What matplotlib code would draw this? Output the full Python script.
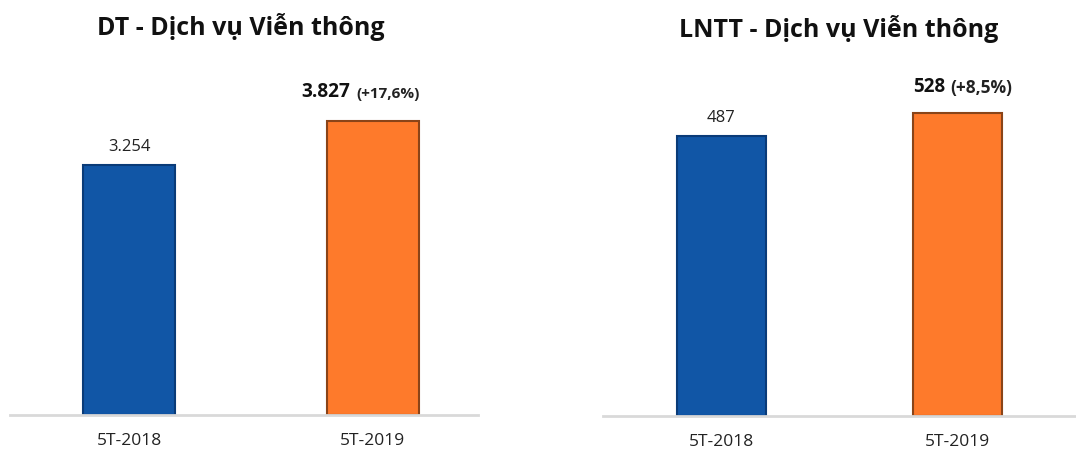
#! /usr/bin/env python3

'''
DT / LNTT - Dich vu Vien thong, two bar charts side by side
'''

import matplotlib
matplotlib.use('Agg')
import matplotlib.pyplot as plt


periods = ['5T-2018', '5T-2019']

dt_values = [3254, 3827]
dt_labels = ['3.254', '3.827']
dt_growth = '(+17,6%)'

lntt_values = [487, 528]
lntt_labels = ['487', '528']
lntt_growth = '(+8,5%)'

dt_title = 'DT - Dịch vụ Viễn thông'
lntt_title = 'LNTT - Dịch vụ Viễn thông'

bar_colors = ['#1156A6', '#FE7A2B']
edge_colors = ['#0A3B78', '#8A4418']

plt.rcParams['font.family'] = ['Open Sans', 'DejaVu Sans']

W, H = 1076, 451


def px_axes(fig, x0, x1, y_top, y_bottom):
    return fig.add_axes([x0 / W, (H - y_bottom) / H,
                         (x1 - x0) / W, (y_bottom - y_top) / H])


def bar_panel(ax, values, labels, growth, ylim, xlim, split_off,
              num_size, growth_size, top_off):
    x = range(len(values))
    bars = ax.bar(x, values, width=0.378, color=bar_colors,
                  edgecolor=edge_colors, linewidth=1.5, zorder=2)
    ax.set_xlim(*xlim)
    ax.set_ylim(*ylim)
    for side in ['top', 'right', 'left']:
        ax.spines[side].set_visible(False)
    ax.spines['bottom'].set_color('#D9D9D9')
    ax.spines['bottom'].set_linewidth(2)
    ax.set_yticks([])
    ax.set_xticks(list(x))
    ax.set_xticklabels(periods, fontsize=12.5, color='#222222')
    ax.tick_params(axis='x', length=0, pad=13)

    # first bar: plain label
    b0 = bars[0]
    ax.annotate(labels[0], (b0.get_x() + b0.get_width() / 2, b0.get_height()),
                xytext=(0, 7.5), textcoords='offset points',
                ha='center', va='bottom', fontsize=12, color='#222222')
    # second bar: bold value + smaller bold growth
    b1 = bars[1]
    top = (b1.get_x() + b1.get_width() / 2, b1.get_height())
    ax.annotate(labels[1], top, xytext=(split_off - 2, top_off),
                textcoords='offset points', ha='right', va='bottom',
                fontsize=num_size, fontweight='bold', color='#111111')
    ax.annotate(growth, top, xytext=(split_off + 2, top_off + 0.5),
                textcoords='offset points', ha='left', va='bottom',
                fontsize=growth_size, fontweight='bold', color='#222222')


fig = plt.figure(figsize=(W / 100, H / 100), dpi=100)

ax1 = px_axes(fig, 10, 478, 31, 415)
bar_panel(ax1, dt_values, dt_labels, dt_growth, (0, 5000),
          (-0.489, 1.433), -14, 13.8, 11, 14)
fig.text(241 / W, 1 - 27 / H, dt_title, ha='center', va='center',
         fontsize=18, fontweight='bold', color='#111111')

ax2 = px_axes(fig, 603, 1076, 14, 416)
bar_panel(ax2, lntt_values, lntt_labels, lntt_growth, (0, 700),
          (-0.502, 1.502), -7, 13.5, 12.5, 11)
fig.text(839 / W, 1 - 29 / H, lntt_title, ha='center', va='center',
         fontsize=18, fontweight='bold', color='#111111')

fig.savefig('out.png', dpi=100)
